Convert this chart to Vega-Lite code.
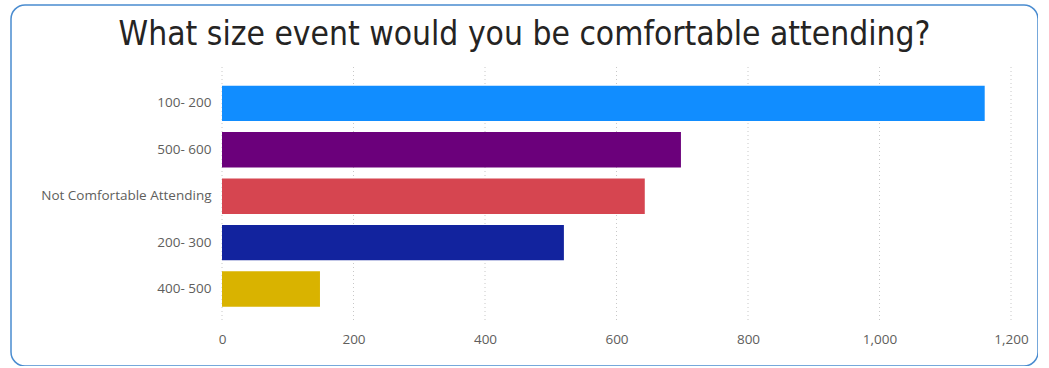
{
  "$schema": "https://vega.github.io/schema/vega-lite/v6.json",
  "autosize": {"type": "none"},
  "padding": {"left": 11, "top": 5, "right": 0, "bottom": 0},
  "width": 1027,
  "height": 361,
  "background": "white",
  "config": {
    "view": {"stroke": "#4a8cd0", "strokeWidth": 1.5, "cornerRadius": 14, "fill": "white"},
    "axis": {"labelFont": "Open Sans", "labelFontSize": 13.5, "labelColor": "#605E5C"}
  },
  "title": {
    "text": "What size event would you be comfortable attending?",
    "font": "DejaVu Sans Condensed",
    "fontSize": 33.3,
    "fontWeight": "normal",
    "color": "#252423",
    "anchor": "middle",
    "frame": "group",
    "offset": -47
  },
  "layer": [
    {
      "data": {"values": [{"tick": 0}, {"tick": 200}, {"tick": 400}, {"tick": 600}, {"tick": 800}, {"tick": 1000}, {"tick": 1200}]},
      "mark": {"type": "rule", "color": "#c8c8c8", "strokeWidth": 1, "strokeDash": [1, 3]},
      "encoding": {
        "x": {"field": "tick", "type": "quantitative", "axis": null},
        "y": {"datum": 0, "type": "quantitative", "scale": {"domain": [0, 1], "range": [315, 60]}, "axis": null},
        "y2": {"datum": 1}
      }
    },
    {
      "data": {"values": [
        {"size": "100- 200", "count": 1160},
        {"size": "500- 600", "count": 698},
        {"size": "Not Comfortable Attending", "count": 643},
        {"size": "200- 300", "count": 520},
        {"size": "400- 500", "count": 149}
      ]},
      "mark": {"type": "bar"},
      "encoding": {
        "y": {
          "field": "size", "type": "nominal", "sort": null,
          "scale": {"range": [80.7, 301.7], "paddingInner": 0.237, "paddingOuter": 0},
          "axis": {"title": null, "ticks": false, "domain": false, "offset": -205, "labelPadding": 5}
        },
        "x": {
          "field": "count", "type": "quantitative",
          "scale": {"domain": [0, 1200], "range": [211, 1000], "nice": false, "zero": true},
          "axis": {"title": null, "values": [0, 200, 400, 600, 800, 1000, 1200], "format": ",.0f", "grid": false, "ticks": false, "domain": false, "labelFlush": false, "offset": -46, "labelPadding": 12}
        },
        "color": {
          "field": "size", "type": "nominal", "legend": null,
          "scale": {
            "domain": ["100- 200", "500- 600", "Not Comfortable Attending", "200- 300", "400- 500"],
            "range": ["#118DFF", "#6B007B", "#D64550", "#12239E", "#D9B300"]
          }
        }
      }
    }
  ],
  "resolve": {"scale": {"y": "independent"}, "axis": {"x": "independent", "y": "independent"}}
}
